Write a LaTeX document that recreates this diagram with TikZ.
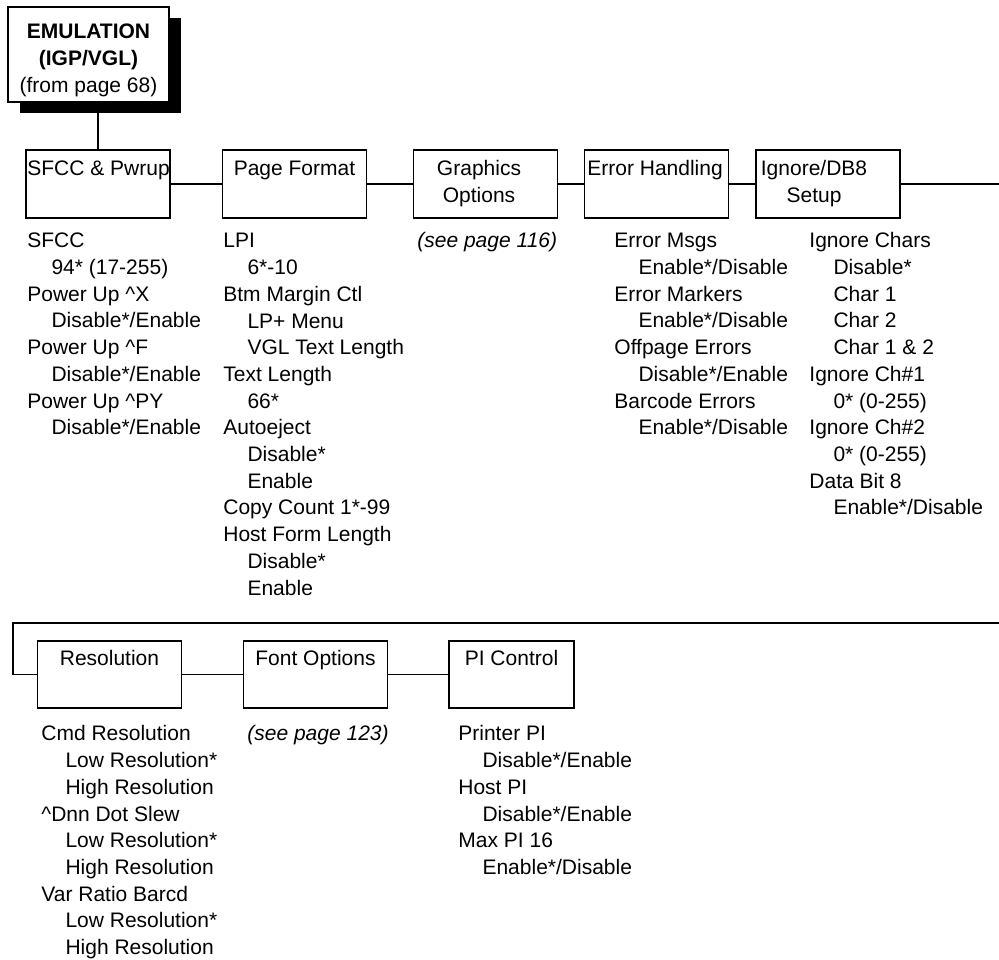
\documentclass[tikz,border=0pt]{standalone}
\usepackage{fontspec}
\setmainfont{Liberation Sans}
\usetikzlibrary{positioning,shadows}
\newcommand{\optind}{\hspace*{1.15em}}

\tikzset{
  menubox/.style={draw, line width=0.85pt, inner sep=0pt, minimum width=72pt, minimum height=34pt},
  boxtitle/.style={inner sep=0pt, align=center},
  optlist/.style={inner sep=0pt, anchor=north west, align=left},
  link/.style={line width=0.85pt},
}

\begin{document}
\begin{tikzpicture}[x=0.5pt, y=-0.5pt, every node/.append style={font=\fontsize{10.5pt}{13.35pt}\selectfont}]
  \useasboundingbox (0,0) rectangle (999,959);
  % --- Top: entry box ---
  \node[menubox, line width=1.1pt, fill=white, minimum width=80.5pt, minimum height=47.5pt,
        drop shadow={shadow xshift=6pt, shadow yshift=-5.5pt, fill=black, opacity=1}] (emul) at (88.5,54.5) {};
  \node[boxtitle, below=6.9pt of emul.north] {\strut\textbf{EMULATION}\\\textbf{(IGP/VGL)}\\(from page 68)};
  % --- First row of menus ---
  \node[menubox] (sfcc) at (98,184) {};
  \node[menubox] (pagefmt) at (294.5,184) {};
  \node[menubox] (gfxopt) at (485.5,184) {};
  \node[menubox] (errhand) at (656.5,184) {};
  \node[menubox] (ignore) at (828,184) {};
  \node[boxtitle, anchor=north west] at (27,156.8) {\strut SFCC \& Pwrup};
  \node[boxtitle, below=3.4pt of pagefmt.north] {\strut Page Format};
  \node[boxtitle, anchor=north] at (479,156.8) {\strut Graphics\\Options};
  \node[boxtitle, anchor=north west] at (587,156.8) {\strut Error Handling};
  \node[boxtitle, anchor=north] at (814,156.8) {\strut Ignore/DB8\\Setup};
  \draw[link] (sfcc.north) -- (sfcc.north |- emul.south);
  \draw[link] (sfcc) -- (pagefmt);
  \draw[link] (pagefmt) -- (gfxopt);
  \draw[link] (gfxopt) -- (errhand);
  \draw[link] (errhand) -- (ignore);
  \coordinate (rowend) at (999,184);
  \draw[link] (ignore) -- (rowend);
  % --- First row of option lists ---
  \node[optlist] (sfcclist) at (27,228.8) {\strut SFCC\\
    \optind 94* (17-255)\\
    Power Up \textasciicircum X\\
    \optind Disable*/Enable\\
    Power Up \textasciicircum F\\
    \optind Disable*/Enable\\
    Power Up \textasciicircum PY\\
    \optind Disable*/Enable};
  \node[optlist] (pagelist) at (223,228.8) {\strut LPI\\
    \optind 6*-10\\
    Btm Margin Ctl\\
    \optind LP+ Menu\\
    \optind VGL Text Length\\
    Text Length\\
    \optind 66*\\
    Autoeject\\
    \optind Disable*\\
    \optind Enable\\
    Copy Count 1*-99\\
    Host Form Length\\
    \optind Disable*\\
    \optind Enable};
  \node[optlist] (gfxnote) at (417,228.8) {\strut\itshape (see page 116)};
  \node[optlist] (errlist) at (614,228.8) {\strut Error Msgs\\
    \optind Enable*/Disable\\
    Error Markers\\
    \optind Enable*/Disable\\
    Offpage Errors\\
    \optind Disable*/Enable\\
    Barcode Errors\\
    \optind Enable*/Disable};
  \node[optlist] (ignlist) at (809,228.8) {\strut Ignore Chars\\
    \optind Disable*\\
    \optind Char 1\\
    \optind Char 2\\
    \optind Char 1 \& 2\\
    Ignore Ch\#1\\
    \optind 0* (0-255)\\
    Ignore Ch\#2\\
    \optind 0* (0-255)\\
    Data Bit 8\\
    \optind Enable*/Disable};
  % --- Second row of menus ---
  \node[menubox, minimum height=33.5pt] (resol) at (109.5,674.5) {};
  \node[menubox, minimum height=33.5pt] (fontopt) at (315.5,674.5) {};
  \node[menubox, minimum height=33.5pt, minimum width=62.5pt] (pictrl) at (511.5,674.5) {};
  \node[boxtitle, below=2.9pt of resol.north] {\strut Resolution};
  \node[boxtitle, below=2.9pt of fontopt.north] {\strut Font Options};
  \node[boxtitle, below=2.9pt of pictrl.north] {\strut PI Control};
  \coordinate (wrapR) at (999,623);
  \coordinate (wrapL) at (13,623);
  \draw[link] (wrapR) -- (wrapL) |- (resol);
  \draw[link] (resol) -- (fontopt);
  \draw[link] (fontopt) -- (pictrl);
  % --- Second row of option lists ---
  \node[optlist] (resollist) at (41,721.8) {\strut Cmd Resolution\\
    \optind Low Resolution*\\
    \optind High Resolution\\
    \textasciicircum Dnn Dot Slew\\
    \optind Low Resolution*\\
    \optind High Resolution\\
    Var Ratio Barcd\\
    \optind Low Resolution*\\
    \optind High Resolution};
  \node[optlist] (fontnote) at (247,721.8) {\strut\itshape (see page 123)};
  \node[optlist] (pilist) at (458,721.8) {\strut Printer PI\\
    \optind Disable*/Enable\\
    Host PI\\
    \optind Disable*/Enable\\
    Max PI 16\\
    \optind Enable*/Disable};
\end{tikzpicture}
\end{document}
